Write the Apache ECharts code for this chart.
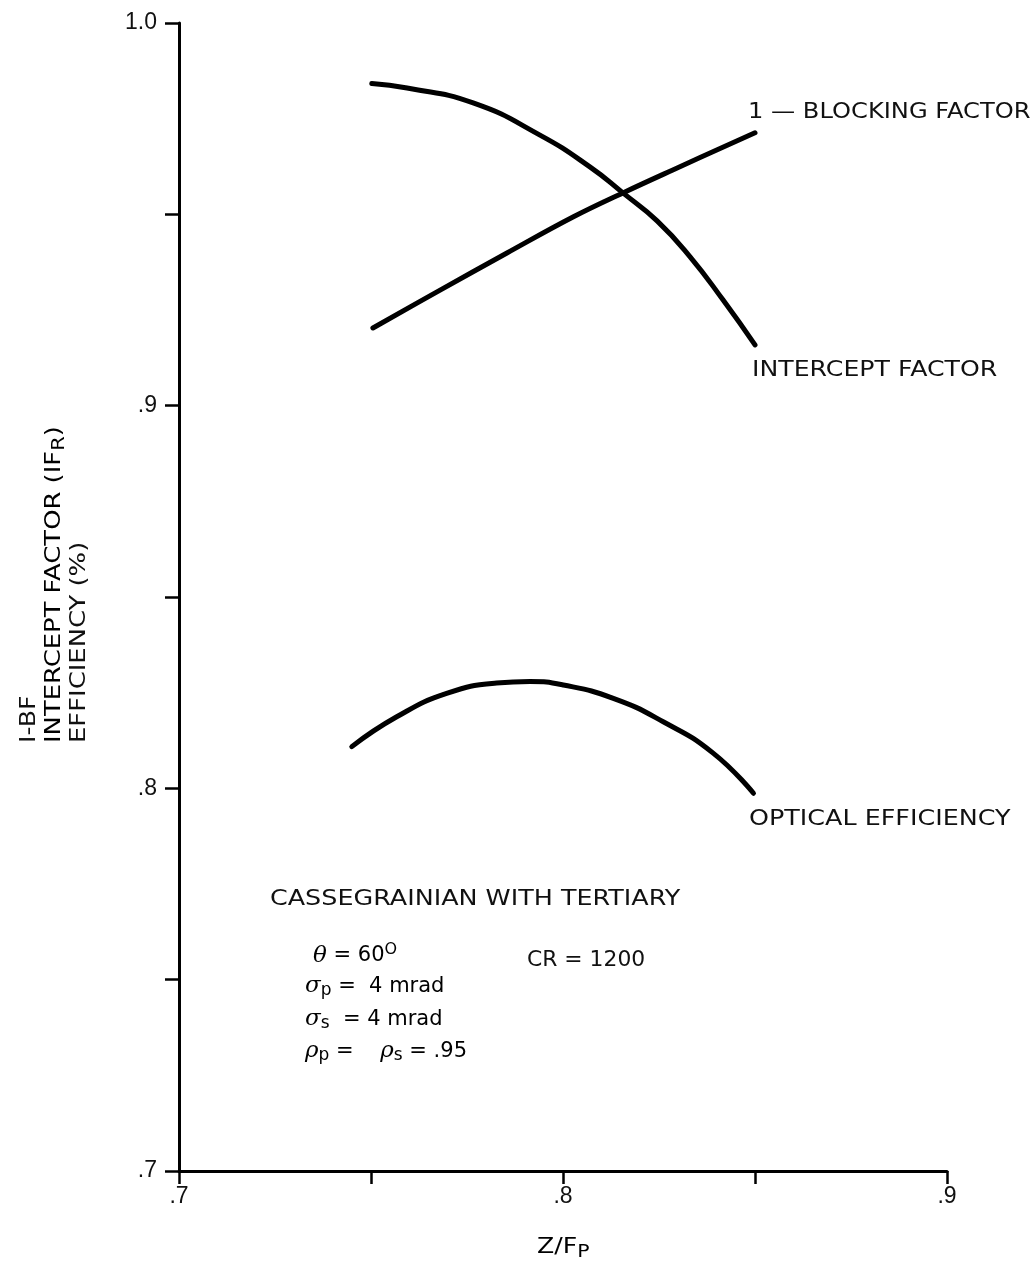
<!DOCTYPE html>
<html>
<head>
<meta charset="utf-8">
<script src="https://cdn.jsdelivr.net/npm/echarts@6/dist/echarts.min.js"></script>
<style>html,body{margin:0;padding:0;background:#fff}#c{width:1036px;height:1270px}</style>
</head>
<body>
<div id="c"></div>
<script>
// Data (Z/Fp, value)
const interceptFactor = [[0.7502,0.9842],[0.7594,0.9830],[0.7766,0.9791],[0.7940,0.9707],[0.8070,0.9624],[0.8156,0.9556],[0.8245,0.9483],[0.8331,0.9389],[0.8417,0.9276],[0.8500,0.9159]];
const blockingFactor = [[0.7505,0.9203],[0.7680,0.9302],[0.7854,0.9399],[0.8026,0.9493],[0.8156,0.9556],[0.8286,0.9616],[0.8500,0.9713]];
const opticalEfficiency = [[0.7450,0.8109],[0.7567,0.8187],[0.7697,0.8248],[0.7827,0.8275],[0.7914,0.8279],[0.8001,0.8270],[0.8131,0.8235],[0.8261,0.8174],[0.8391,0.8092],[0.8496,0.7987]];
const xTickLabels = {'0.7':'.7','0.8':'.8','0.9':'.9'};
const yTickLabels = {'0.7':'.7','0.8':'.8','0.9':'.9','1':'1.0'};

const FONT = '"DejaVu Sans", sans-serif';
const TFONT = '"Liberation Sans", Arial, sans-serif';
const FS = 21;
const chart = echarts.init(document.getElementById('c'), null, {renderer:'canvas'});
const lineStyle = {color:'#000', width:5, cap:'round', join:'round'};
function fmt(map){return v=>{const k=String(Math.round(v*100)/100);return map[k]!==undefined?map[k]:'';};}
function label(text, x, y, sx){
  return {type:'text', x:x, y:y, scaleX:sx, style:{text:text, font:FS+'px '+FONT, fill:'#111', align:'left', verticalAlign:'top'}};
}
const rich = {
  n:{fontFamily:FONT,fontSize:FS,color:'#111'},
  g:{fontFamily:'"DejaVu Serif", serif',fontStyle:'italic',fontSize:23,color:'#111'},
  sub:{fontFamily:FONT,fontSize:17,color:'#111',padding:[9,0,0,0]},
  sup:{fontFamily:FONT,fontSize:16,color:'#111',padding:[0,0,12,0]}
};
chart.setOption({
  animation:false,
  backgroundColor:'#fff',
  grid:{left:179,right:89,top:23,bottom:99,containLabel:false},
  xAxis:{type:'value',min:0.7,max:0.9,interval:0.05,
    axisLine:{show:true,onZero:false,lineStyle:{color:'#000',width:3}},
    axisTick:{show:true,length:13,lineStyle:{color:'#000',width:2.5}},
    axisLabel:{formatter:fmt(xTickLabels),fontFamily:TFONT,fontSize:23,color:'#111',margin:14},
    splitLine:{show:false}},
  yAxis:{type:'value',min:0.7,max:1.0,interval:0.05,
    axisLine:{show:true,onZero:false,lineStyle:{color:'#000',width:3}},
    axisTick:{show:true,length:14,lineStyle:{color:'#000',width:2.5}},
    axisLabel:{formatter:fmt(yTickLabels),fontFamily:TFONT,fontSize:23,color:'#111',margin:22},
    splitLine:{show:false}},
  series:[
    {type:'line',name:'Intercept factor',data:interceptFactor,smooth:0.5,showSymbol:false,lineStyle:lineStyle},
    {type:'line',name:'1 - Blocking factor',data:blockingFactor,smooth:0.4,showSymbol:false,lineStyle:lineStyle},
    {type:'line',name:'Optical efficiency',data:opticalEfficiency,smooth:0.5,showSymbol:false,lineStyle:lineStyle}
  ],
  graphic:[
    label('1 — BLOCKING FACTOR', 748, 102, 1.15),
    label('INTERCEPT FACTOR', 752, 360, 1.2),
    label('OPTICAL EFFICIENCY', 749, 809, 1.21),
    label('CASSEGRAINIAN WITH TERTIARY', 270, 889, 1.21),
    label('CR = 1200', 527, 950, 1.04),
    {type:'text',left:313,top:942,style:{text:'{g|θ}{n| = 60}{sup|O}',rich:rich}},
    {type:'text',left:305,top:975,style:{text:'{g|σ}{sub|p}{n| =  4 mrad}',rich:rich}},
    {type:'text',left:305,top:1008,style:{text:'{g|σ}{sub|s}{n|  = 4 mrad}',rich:rich}},
    {type:'text',left:305,top:1040,style:{text:'{g|ρ}{sub|p}{n| =    }{g|ρ}{sub|s}{n| = .95}',rich:rich}},
    {type:'text',x:537,y:1235,scaleX:1.2,style:{text:'{n|Z/F}{sub|P}',rich:rich,align:'left',verticalAlign:'top'}},
    {type:'text',x:30,y:743,rotation:Math.PI/2,scaleX:1.2,style:{text:'I-BF',font:FS+'px '+FONT,fill:'#111',align:'left',verticalAlign:'middle'}},
    {type:'text',x:55,y:743,rotation:Math.PI/2,scaleX:1.23,style:{text:'{n|INTERCEPT FACTOR (IF}{sub|R}{n|)}',rich:rich,align:'left',verticalAlign:'middle'}},
    {type:'text',x:80,y:743,rotation:Math.PI/2,scaleX:1.23,style:{text:'EFFICIENCY (%)',font:FS+'px '+FONT,fill:'#111',align:'left',verticalAlign:'middle'}}
  ]
});
</script>
</body>
</html>
